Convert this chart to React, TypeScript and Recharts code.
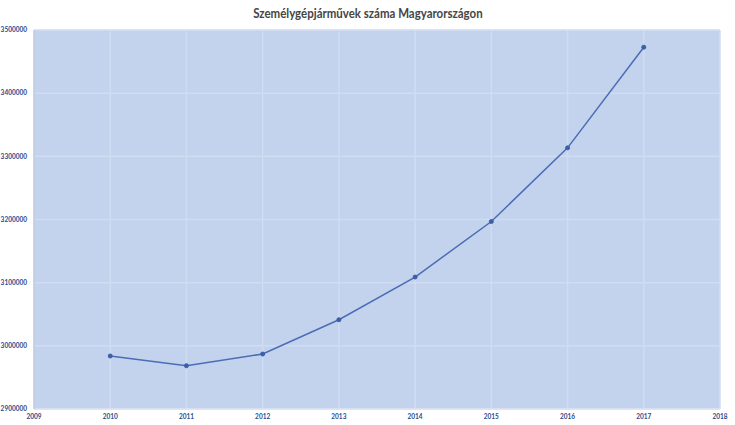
import React from 'react'
import { LineChart, Line, XAxis, YAxis, CartesianGrid } from 'recharts'

const years = [2010, 2011, 2012, 2013, 2014, 2015, 2016, 2017]
const cars = [2983900, 2968500, 2987000, 3041300, 3108900, 3196800, 3313400, 3472800]
const xTicks = [2009, 2010, 2011, 2012, 2013, 2014, 2015, 2016, 2017, 2018]
const yTicks = [2900000, 3000000, 3100000, 3200000, 3300000, 3400000, 3500000]

const TITLE = 'Személygépjárművek száma Magyarországon'

const data = years.map((year, i) => ({ year, value: cars[i] }))

const tickStyle = { fontSize: 6.5, fill: '#2d4a8c', fontFamily: 'Lato, sans-serif', fontWeight: 700 }

export default function App() {
  return (
    <div style={{ position: 'absolute', left: 0, top: 0, width: 735, height: 425, background: '#fff' }}>
      <div style={{ position: 'absolute', left: 0, top: 4, width: 735, textAlign: 'center' }}>
        {/* calibri-ish: squeeze Lato horizontally */}
        <span
          style={{
            display: 'inline-block', transform: 'scaleX(0.82)',
            fontFamily: 'Lato, sans-serif', fontWeight: 700, fontSize: 14, color: '#454545',
          }}
        >
          {TITLE}
        </span>
      </div>
      <LineChart width={735} height={425} data={data} margin={{ top: 30, right: 15, bottom: 0, left: 0 }}>
        <CartesianGrid fill="#c3d3ed" stroke="#d0dcf1" strokeWidth={1.5} />
        <XAxis
          dataKey="year"
          type="number"
          domain={[2009, 2018]}
          ticks={xTicks}
          height={16}
          axisLine={{ stroke: '#dfe6f2' }}
          tickLine={false}
          tickSize={0}
          tickMargin={5}
          tick={tickStyle}
          interval={0}
        />
        <YAxis
          type="number"
          domain={[2900000, 3500000]}
          ticks={yTicks}
          width={34}
          axisLine={{ stroke: '#b5c4de' }}
          tickLine={false}
          tickSize={0}
          tickMargin={7}
          tick={tickStyle}
          interval={0}
        />
        <Line
          dataKey="value"
          stroke="#4a6db5"
          strokeWidth={1.5}
          dot={{ r: 2, fill: '#3b5fa8', stroke: '#3b5fa8', strokeWidth: 1 }}
          isAnimationActive={false}
        />
      </LineChart>
    </div>
  )
}
